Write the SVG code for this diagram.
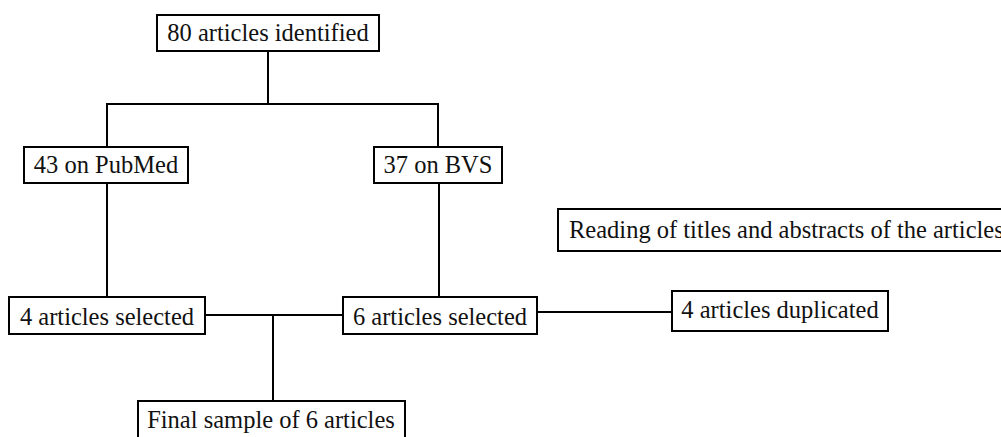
<svg xmlns="http://www.w3.org/2000/svg" width="1001" height="437" viewBox="0 0 1001 437">
<style>
.b{fill:#fff;stroke:#000;stroke-width:2}
.t{font-family:"Liberation Serif","Times New Roman",serif;font-size:24.5px;fill:#111;text-anchor:middle}
.c line{stroke:#000;stroke-width:2}
</style>
<rect width="1001" height="437" fill="#fff"/>
<g class="c" id="connectors">
<line x1="268" y1="51" x2="268" y2="104"/>
<line x1="106" y1="104" x2="439" y2="104"/>
<line x1="107" y1="104" x2="107" y2="147"/>
<line x1="438" y1="104" x2="438" y2="147"/>
<line x1="107" y1="183" x2="107" y2="297"/>
<line x1="439" y1="183" x2="439" y2="297"/>
<line x1="205" y1="315" x2="343" y2="315"/>
<line x1="273" y1="315" x2="273" y2="401"/>
<line x1="537" y1="312" x2="672" y2="312"/>
</g>
<g id="n1"><rect class="b" x="157" y="15" width="222" height="36"/><text class="t" x="268" y="41">80 articles identified</text></g>
<g id="n2"><rect class="b" x="24" y="147" width="164" height="36"/><text class="t" x="106" y="173">43 on PubMed</text></g>
<g id="n3"><rect class="b" x="374" y="147" width="128" height="36"/><text class="t" x="438" y="173">37 on BVS</text></g>
<g id="n4"><rect class="b" x="558" y="209" width="460" height="42"/><text class="t" x="569" y="238" style="text-anchor:start">Reading of titles and abstracts of the articles</text></g>
<g id="n5"><rect class="b" x="9" y="297" width="196" height="37"/><text class="t" x="107" y="325">4 articles selected</text></g>
<g id="n6"><rect class="b" x="343" y="297" width="194" height="37"/><text class="t" x="440" y="325">6 articles selected</text></g>
<g id="n7"><rect class="b" x="672" y="291" width="216" height="40"/><text class="t" x="780" y="318">4 articles duplicated</text></g>
<g id="n8"><rect class="b" x="138" y="401" width="267" height="45"/><text class="t" x="271" y="428">Final sample of 6 articles</text></g>
</svg>
